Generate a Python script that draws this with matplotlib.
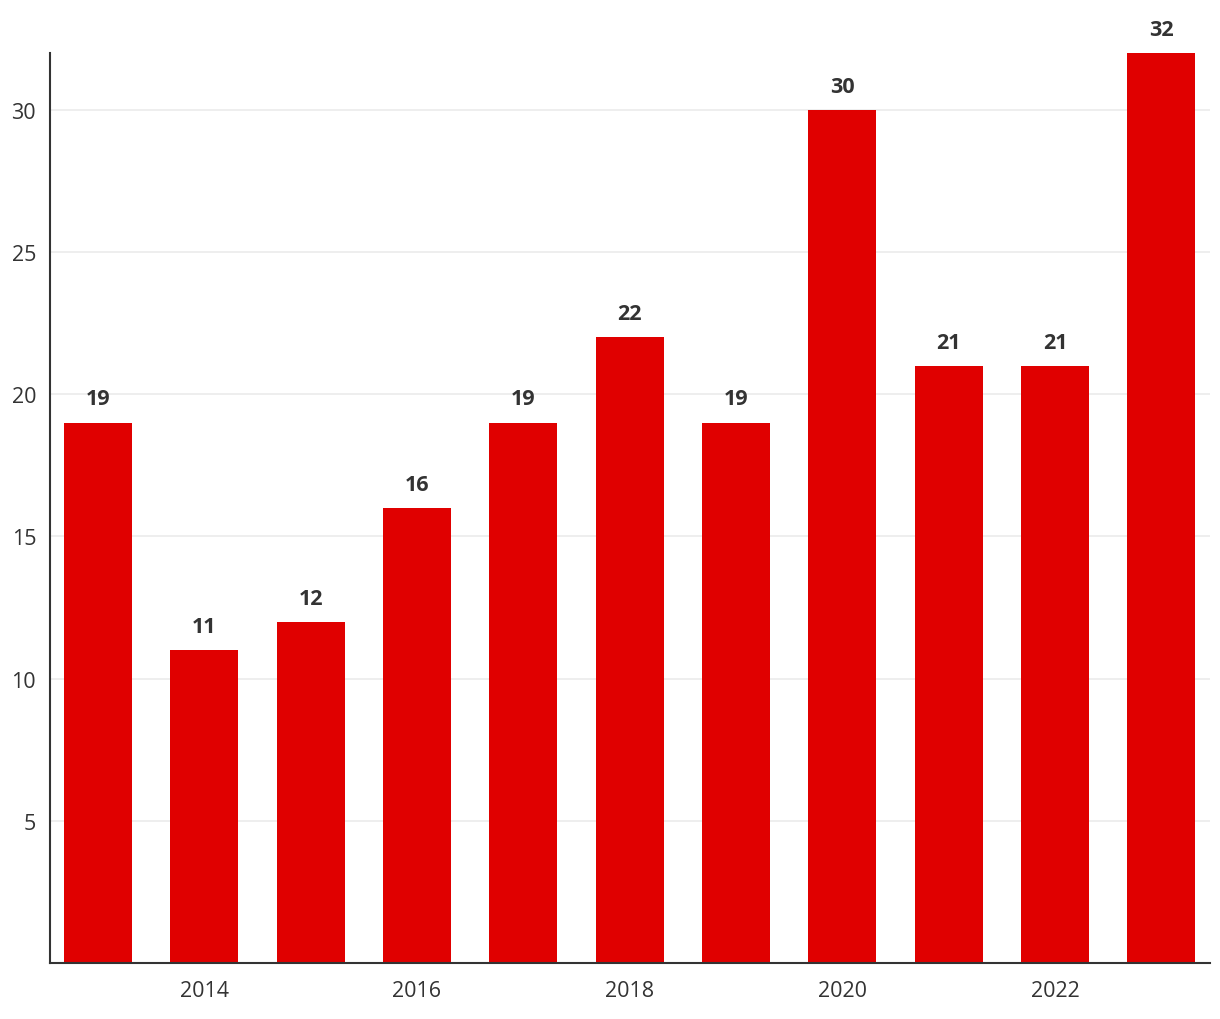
import matplotlib
matplotlib.use("Agg")
import matplotlib.pyplot as plt

years = [2013, 2014, 2015, 2016, 2017, 2018, 2019, 2020, 2021, 2022, 2023]
values = [19, 11, 12, 16, 19, 22, 19, 30, 21, 21, 32]
xticks = [2014, 2016, 2018, 2020, 2022]
yticks = [5, 10, 15, 20, 25, 30]

plt.rcParams['font.family'] = ['Open Sans', 'DejaVu Sans']

fig = plt.figure(figsize=(12.2, 10.2), dpi=100)
ax = fig.add_axes([0.041, 0.0549, 0.951, 0.8922])

ax.bar(years, values, width=0.64, color="#e00000", zorder=2)
for x, v in zip(years, values):
    ax.annotate(str(v), (x, v), xytext=(0, 9.5), textcoords="offset points",
                ha="center", va="bottom", fontsize=15.5, fontweight="bold", color="#333333")

ax.set_xlim(2012.55, 2023.46)
ax.set_ylim(0, 32)
ax.set_xticks(xticks)
ax.set_yticks(yticks)
ax.yaxis.grid(True, color="#ebebeb", linewidth=1.2, zorder=0)
ax.set_axisbelow(True)
ax.tick_params(axis="x", length=0, labelsize=15.5, labelcolor="#333333", pad=12)
ax.tick_params(axis="y", length=0, labelsize=15.5, labelcolor="#333333", pad=10)
for s in ["top", "right"]:
    ax.spines[s].set_visible(False)
for s in ["left", "bottom"]:
    ax.spines[s].set_color("#333333")
    ax.spines[s].set_linewidth(1.5)

fig.savefig("out.png", dpi=100)
